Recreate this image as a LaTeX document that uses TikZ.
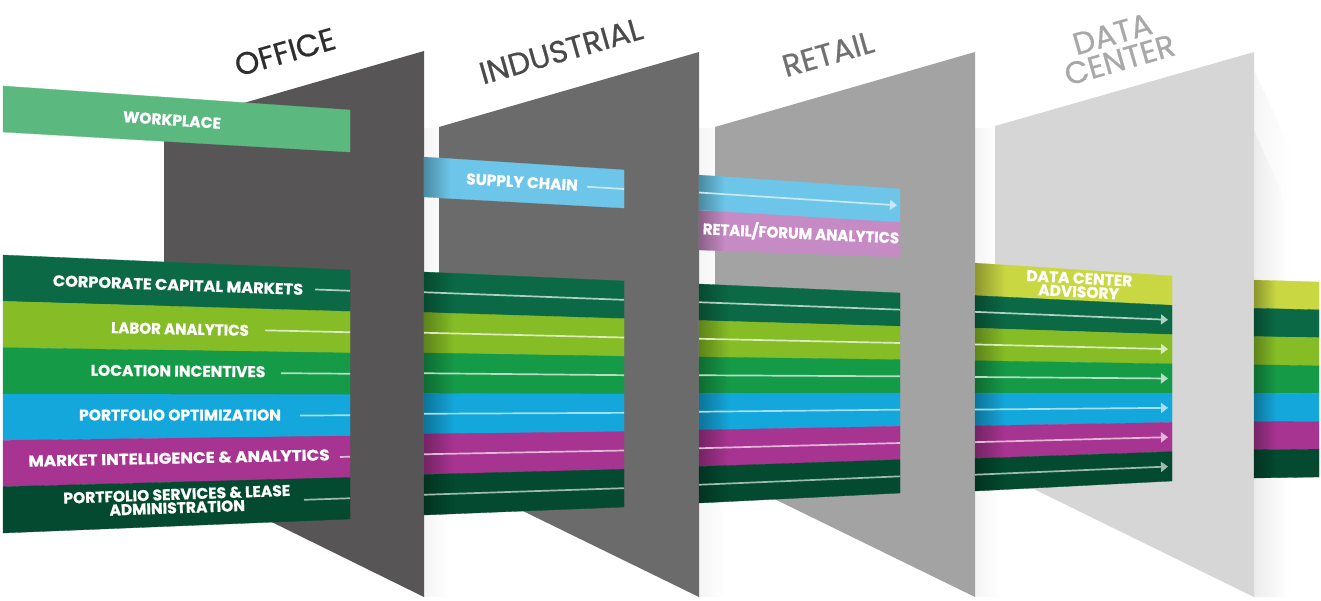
\documentclass[tikz,border=0pt]{standalone}
\usepackage{fontspec}
\setmainfont{Poppins}
\newfontfamily\headfont{Poppins}[FakeBold=0.6]
\newfontfamily\labfont{Poppins}[BoldFeatures={FakeBold=0.7}]
\usetikzlibrary{calc,arrows.meta,fadings}

\definecolor{pOffice}{HTML}{575556}
\definecolor{pInd}{HTML}{6B6B6B}
\definecolor{pRet}{HTML}{A3A3A3}
\definecolor{pDC}{HTML}{D6D6D6}
\definecolor{hOffice}{HTML}{2E2E2E}
\definecolor{hInd}{HTML}{4A4A4A}
\definecolor{hRet}{HTML}{707070}
\definecolor{hDC}{HTML}{A8A8A8}
\definecolor{cWork}{HTML}{5BB97F}
\definecolor{cSupply}{HTML}{6DC6E9}
\definecolor{cRetail}{HTML}{C68BC4}
\definecolor{cDCA}{HTML}{C9D743}
\definecolor{cCCM}{HTML}{0B6A45}
\definecolor{cLab}{HTML}{86BD26}
\definecolor{cLoc}{HTML}{159A48}
\definecolor{cPort}{HTML}{14A7DC}
\definecolor{cMkt}{HTML}{A83491}
\definecolor{cPSL}{HTML}{034A30}
\colorlet{lCCM}{white!68!cCCM}
\colorlet{lLab}{white!70!cLab}
\colorlet{lLoc}{white!68!cLoc}
\colorlet{lPort}{white!62!cPort}
\colorlet{lMkt}{white!65!cMkt}
\colorlet{lPSL}{white!62!cPSL}
\colorlet{lSup}{white!62!cSupply}

% current segment: xl, xr, y top-left, y bottom-left, y top-right, y bottom-right, band count
\newcommand\segdef[7]{\def\sxl{#1}\def\sxr{#2}\def\sytl{#3}\def\sybl{#4}\def\sytr{#5}\def\sybr{#6}\def\sn{#7}}
\newcommand\bandfill[1]{%
  \foreach \bcol [count=\bi from 0] in {#1} {
    \pgfmathsetmacro\yA{\sytl+(\sybl-\sytl)*\bi/\sn}
    \pgfmathsetmacro\yB{\sytl+(\sybl-\sytl)*(\bi+1)/\sn}
    \pgfmathsetmacro\yC{\sytr+(\sybr-\sytr)*\bi/\sn}
    \pgfmathsetmacro\yD{\sytr+(\sybr-\sytr)*(\bi+1)/\sn}
    \fill[\bcol, draw=\bcol, line width=0.3pt] (\sxl,\yA) -- (\sxr,\yC) -- (\sxr,\yD) -- (\sxl,\yB) -- cycle;
  }}
\newcommand\bandshade[1]{% dark fade at the left end of the current segment
  \pgfmathsetmacro\yA{\sytl+(\sytr-\sytl)*#1/(\sxr-\sxl)}
  \pgfmathsetmacro\yB{\sybl+(\sybr-\sybl)*#1/(\sxr-\sxl)}
  \fill[black, opacity=0.3, path fading=east] (\sxl,\sytl) -- (\sxl+#1,\yA) -- (\sxl+#1,\yB) -- (\sxl,\sybl) -- cycle;}
% line at the middle of band #2 from x=#3 to x=#4, colour #5
\newcommand\bline[5][]{%
  \pgfmathsetmacro\fr{(#2+0.5)/\sn}
  \pgfmathsetmacro\yl{\sytl+(\sybl-\sytl)*\fr}
  \pgfmathsetmacro\yr{\sytr+(\sybr-\sytr)*\fr}
  \pgfmathsetmacro\ys{\yl+(\yr-\yl)*(#3-\sxl)/(\sxr-\sxl)}
  \pgfmathsetmacro\ye{\yl+(\yr-\yl)*(#4-\sxl)/(\sxr-\sxl)}
  \draw[line width=1.7pt, #5, #1] (#3,\ys) -- (#4,\ye);}

\tikzset{
  head/.style={font=\headfont\fontsize{31}{27}\selectfont, inner sep=0pt, align=center},
  lab/.style={text=white, font=\labfont\bfseries\fontsize{15.5}{13.5}\selectfont, inner sep=0pt, align=center},
  arr/.style={-{Triangle[length=7pt,width=10pt]}},
  pshadow/.style={black, path fading=east}
}

\begin{document}
\begin{tikzpicture}[x=1pt,y=-1pt]
\useasboundingbox (0,0) rectangle (1321,600);
\fill[white] (0,0) rectangle (1321,600);

% panel shadows
\fill[pshadow, opacity=0.04] (424,128) rectangle (450,597);
\fill[pshadow, opacity=0.04] (699,128) rectangle (725,597);
\fill[pshadow, opacity=0.04] (975,128) rectangle (1001,597);
\fill[pshadow, opacity=0.035] (1254,70) -- (1292,150) -- (1292,597) -- (1254,597) -- cycle;
\fill[pshadow, opacity=0.04] (1254,130) -- (1285,200) -- (1285,597) -- (1254,597) -- cycle;

% panels
\fill[pOffice] (164,126) -- (424,51) -- (424,597) -- (164,469) -- cycle;
\fill[pInd] (439,127) -- (699,52) -- (699,597) -- (439,470) -- cycle;
\fill[pRet] (715,127) -- (975,52) -- (975,597) -- (715,470) -- cycle;
\fill[pDC] (995,126) -- (1254,52) -- (1254,597) -- (995,470) -- cycle;

% headers
\node[head, text=hOffice, rotate=16] (office) at (285,52) {OFFICE};
\node[head, text=hInd, rotate=16] (industrial) at (561,51) {INDUSTRIAL};
\node[head, text=hRet, rotate=16] (retail) at (828,54) {RETAIL};
\node[head, text=hDC, rotate=16] (datacenter) at (1116,47) {DATA\\CENTER};

% ---- office segment
\segdef{3}{350}{86}{132}{110}{152}{1}
\bandfill{cWork}
\segdef{3}{350}{255}{533}{270}{519}{6}
\bandfill{cCCM,cLab,cLoc,cPort,cMkt,cPSL}
\bline{0}{315}{350}{lCCM}
\bline{1}{265}{350}{lLab}
\bline{2}{281}{350}{lLoc}
\bline{3}{300}{350}{lPort}
\bline{4}{340}{350}{lMkt}
\bline{5}{304}{350}{lPSL}

% ---- industrial segment
\segdef{424}{624}{157}{197}{170}{208}{1}
\bandfill{cSupply}
\bandshade{26}
\bline{0}{587}{624}{lSup}
\segdef{424}{624}{272}{515}{281}{507}{6}
\bandfill{cCCM,cLab,cLoc,cPort,cMkt,cPSL}
\bandshade{30}
\bline{0}{424}{624}{lCCM}
\bline{1}{424}{624}{lLab}
\bline{2}{424}{624}{lLoc}
\bline{3}{424}{624}{lPort}
\bline{4}{424}{624}{lMkt}
\bline{5}{424}{624}{lPSL}

% ---- retail segment
\segdef{699}{900}{210}{250}{222}{257}{1}
\bandfill{cRetail}
\bandshade{26}
\segdef{699}{900}{175}{210}{189}{222}{1}
\bandfill{cSupply}
\bandshade{26}
\bline[arr]{0}{699}{897}{lSup}
\segdef{699}{900}{284}{503}{293}{493}{6}
\bandfill{cCCM,cLab,cLoc,cPort,cMkt,cPSL}
\bandshade{30}
\bline{0}{699}{900}{lCCM}
\bline{1}{699}{900}{lLab}
\bline{2}{699}{900}{lLoc}
\bline{3}{699}{900}{lPort}
\bline{4}{699}{900}{lMkt}
\bline{5}{699}{900}{lPSL}

% ---- data center segment
\segdef{975}{1172}{263}{491}{276}{481}{7}
\bandfill{cDCA,cCCM,cLab,cLoc,cPort,cMkt,cPSL}
\bandshade{30}
\bline[arr]{1}{975}{1168}{lCCM}
\bline[arr]{2}{975}{1168}{lLab}
\bline[arr]{3}{975}{1168}{lLoc}
\bline[arr]{4}{975}{1168}{lPort}
\bline[arr]{5}{975}{1168}{lMkt}
\bline[arr]{6}{975}{1168}{lPSL}

% ---- far right segment
\segdef{1254}{1319}{280}{478}{282}{477}{7}
\bandfill{cDCA,cCCM,cLab,cLoc,cPort,cMkt,cPSL}
\bandshade{22}

% labels
\node[lab, rotate=-4] (workplace) at (172,120) {WORKPLACE};
\node[lab, rotate=-2] (ccm) at (178,285) {\scalebox{1.04}[1]{CORPORATE CAPITAL MARKETS}};
\node[lab, rotate=-1.2] (labor) at (180,329) {\scalebox{0.97}[1]{LABOR ANALYTICS}};
\node[lab, rotate=-0.5] (location) at (178,371) {LOCATION INCENTIVES};
\node[lab, rotate=0] (portopt) at (180,415) {PORTFOLIO OPTIMIZATION};
\node[lab, rotate=1.2] (market) at (179,458) {\scalebox{1.08}[1]{MARKET INTELLIGENCE \& ANALYTICS}};
\node[lab, rotate=2] (psla) at (177,501) {PORTFOLIO SERVICES \& LEASE\\ADMINISTRATION};
\node[lab, rotate=-3.4] (supply) at (522,182) {SUPPLY CHAIN};
\node[lab, rotate=-2.7] (retailforum) at (801,233) {\scalebox{0.96}[1]{RETAIL/FORUM ANALYTICS}};
\node[lab, rotate=-3] (dca) at (1079,285) {DATA CENTER\\ADVISORY};
\end{tikzpicture}
\end{document}
